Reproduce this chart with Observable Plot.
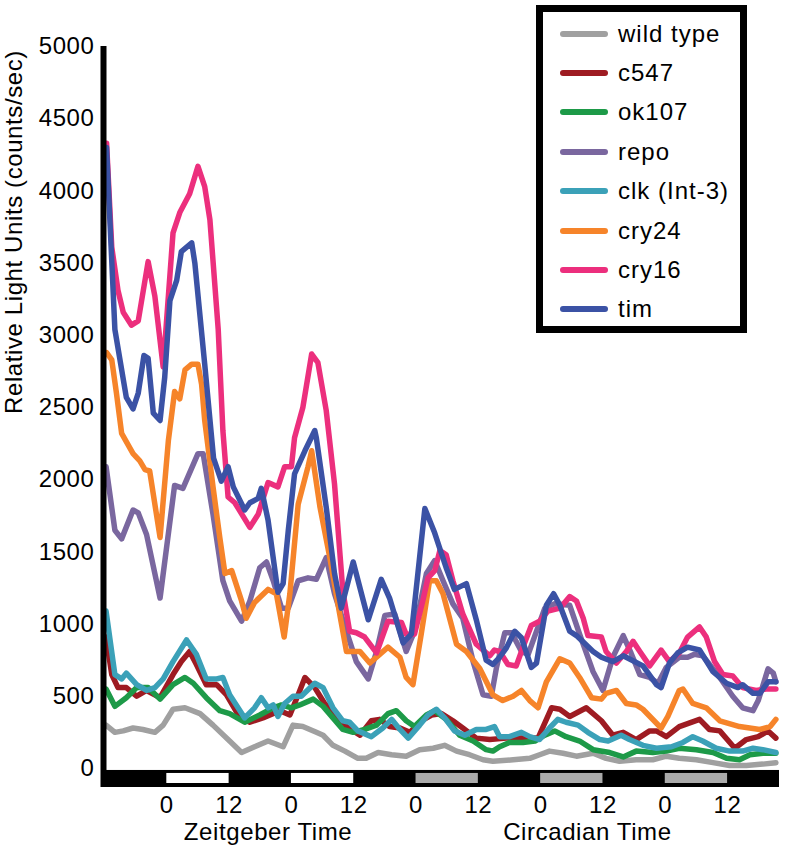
<!DOCTYPE html>
<html><head><meta charset="utf-8">
<script src="https://cdn.jsdelivr.net/npm/d3@7"></script>
<script src="https://cdn.jsdelivr.net/npm/@observablehq/plot@0.6"></script>
<style>
html,body{margin:0;padding:0;background:#fff;}
#wrap{position:relative;width:787px;height:850px;font-family:'Liberation Sans',Arial,sans-serif;}
#legend{position:absolute;left:536px;top:5px;width:211px;height:328px;box-sizing:border-box;border:7px solid #000;background:#fff;padding-top:2px;}
.row{display:flex;align-items:center;height:39.4px;}
.sw{width:48px;height:6px;border-radius:3px;margin-left:17px;margin-right:10px;flex:none;}
.lab{font-size:24px;letter-spacing:1px;color:#000;line-height:1;white-space:nowrap;}
</style></head>
<body><div id="wrap"><div id="chart"></div><div id="legend"></div></div>
<script>
// ---- data (hours relative to first ZT0, values in counts/sec) ----
const seriesNames = ["wild type","c547","ok107","repo","clk (Int-3)","cry24","cry16","tim"];
const seriesColors = ["#a0a0a0","#9e1b22","#1d9a48","#7a679f","#3ba1b8","#f6842a","#ec2f7d","#3b52a5"];

const wtH = [-11.7,-10,-8.4,-6.5,-4.6,-2.3,-0.7,1.2,3.5,6.4,8.9,12.1,14.4,16.9,19.5,22.4,24.3,26.2,28.8,30.1,32,34.3,36.8,38.4,40.7,43.3,46.1,48.7,51.3,53.5,55.8,58.3,60.9,62.8,66.7,69.9,71.8,73.7,76.3,78.9,82.1,84.6,87.2,90.4,93.6,96.2,98.7,102,105.2,108.4,111.6,114.8,117.3];
const wtV = [300,250,260,280,270,250,300,410,420,380,300,190,110,150,190,150,300,290,250,230,160,120,70,70,110,95,85,130,140,160,120,95,60,50,60,70,95,120,105,85,105,70,50,60,60,85,70,60,40,20,20,30,40];

const c547H = [-11.7,-10.6,-9.4,-7.8,-5.8,-3.9,-1.3,1.2,2.8,4.4,5.7,7.6,9.6,11.5,14.1,16,18.5,21.8,23.7,25.3,26.6,28.5,30.4,32.7,34.6,37.2,39.4,41,42.9,44.9,46.8,49,51,52.9,55.1,57,59.6,62.2,65.4,68.6,71.5,74.1,75.7,77.6,80.8,83.7,85.9,87.9,90.4,93,94.3,96.2,98.7,102.6,104.5,106.5,109.4,111.6,113.9,115.8,117.3];
const c547V = [910,650,560,560,500,540,490,650,740,810,720,580,580,510,350,320,350,400,370,510,630,560,450,370,290,230,330,340,290,280,250,330,370,380,330,280,210,200,210,210,210,420,410,360,420,330,230,250,200,260,260,220,290,340,270,260,140,200,220,260,210];

const ok107H = [-11.7,-10,-7.8,-5.8,-3.6,-1.3,1.2,3.5,5.1,7.6,10.2,12.1,15,17.9,20.5,22.1,24,25.6,28.2,30.1,32,33.9,35.9,38.1,40.4,42.6,44.2,46.1,47.7,50,51.6,53.8,56.4,59,61.5,62.8,64.1,66,68.6,70.9,72.8,74.7,76.9,79.5,82.1,85.3,87.9,90.4,93.6,96.2,98.7,102,105.2,107.8,110.3,112.3,114.8,117.3];
const ok107V = [550,430,490,560,560,480,580,630,590,490,400,380,320,370,420,440,420,440,480,430,350,270,250,270,300,380,400,330,290,370,400,340,230,190,130,120,150,180,180,190,230,260,220,190,130,110,80,120,110,120,140,130,110,70,60,95,105,105];

const repoH = [-11.7,-10,-8.7,-6.5,-5.5,-3.9,-1.3,1.5,3.1,6,7,8.9,10.8,12.1,14.4,16,17.9,19.2,20.5,22.1,23.4,25.3,27.2,28.8,30.7,32.3,34.6,36.5,38.8,40.4,42,43.9,46.1,47.7,50,51.6,53.2,55.1,57,59,60.9,62.5,63.5,65.1,66.4,68.3,69.6,72.8,74.7,77.6,79.5,82.1,84,85.9,87.9,89.4,91.1,93,94.6,96.2,98.7,100.3,101.6,103.2,106.5,109,110.9,112.9,113.9,115.8,116.8,117.3];
const repoV = [2090,1650,1590,1790,1770,1620,1180,1960,1940,2180,2180,1760,1300,1160,1020,1160,1390,1430,1300,1110,1110,1300,1320,1310,1460,1210,950,740,620,810,1060,1070,810,950,1350,1440,1300,1140,1040,740,510,500,700,940,940,810,790,1110,1140,1130,930,670,540,770,920,800,650,630,590,700,770,770,790,780,630,500,420,400,470,690,660,600];

const clkH = [-11.7,-10,-8.7,-7.8,-5.8,-3.9,-2.3,-0.7,1.2,3.8,5.7,7.6,9.6,10.8,12.1,15,16.9,18.2,19.5,20.5,21.4,22.7,24.3,25.9,28.5,30.1,32,33.9,35.2,36.8,39.4,41.6,43.3,44.9,46.5,48.7,50.3,51.9,53.5,55.4,57.4,59.6,61.5,63.1,64.1,66,68.3,69.9,71.8,73.7,75.3,76.9,79.2,81.1,83.4,85,87.5,89.1,91.7,94.3,97.2,99.4,101.3,103.2,105.8,108.4,110.9,112.9,114.8,117.3];
const clkV = [1090,650,620,660,580,540,560,620,740,890,790,620,620,630,510,350,420,490,420,440,360,450,500,500,590,560,420,330,320,260,220,280,340,270,210,300,370,410,350,260,230,270,270,290,220,220,250,220,200,280,340,320,300,250,200,190,230,200,160,140,150,180,220,190,140,120,120,140,130,110];

const cry24H = [-11.6,-10.6,-9.7,-8.7,-6.5,-5.2,-4.2,-3.3,-1.3,0.3,1.5,2.5,3.5,4.8,6,6.7,7.3,8.9,10.2,11.2,12.5,14.4,15.3,16.9,19.5,21.1,22.6,23.7,25.3,27.2,27.9,29.5,31.4,33.3,34.6,37.2,39.1,41,42.6,44.9,46.1,47.4,49,50.6,51.9,53.2,55.8,57.7,60.3,62.8,64.7,66.7,68.3,69.9,71.5,73.1,75.7,77.6,79.5,81.8,83.7,84.6,86.6,88.5,90.4,91.7,95.2,96.5,98.7,99.4,101.3,103.9,106.5,110.3,114.2,116.2,117.3];
const cry24V = [2880,2830,2600,2320,2180,2130,2070,2060,1600,2270,2610,2560,2760,2800,2800,2660,2410,1950,1600,1350,1370,1160,1040,1150,1240,1210,910,1210,1830,2090,2200,1810,1460,1070,810,810,730,790,840,770,630,580,930,1300,1300,1210,860,810,690,510,470,500,540,470,420,600,760,730,630,490,480,520,540,450,440,410,280,360,540,550,450,420,330,290,270,290,340];

const cry16H = [-11.6,-10.6,-9.4,-8.4,-6.8,-5.5,-3.6,-2.3,-0.7,1.2,2.5,4.4,6,7.3,8.3,9.9,10.8,11.8,13.1,16,17.6,19.5,21.4,22.7,24,24.6,26.2,27.9,29.1,30.7,32.3,33.9,35.2,36.5,38.1,40.4,42.6,45.2,46.1,47.7,49.3,50.3,51.6,52.6,53.8,55.1,57,59.6,62.2,63.1,64.1,65.7,67.3,68.6,70.2,71.8,73.4,75.7,77.6,78.9,80.2,81.1,83.7,84.6,86.6,88.5,89.8,91.1,93,95.2,96.8,98.7,100.3,102.6,103.9,105.5,107.1,109,110.9,113.5,115.4,117.3];
const cry16V = [4330,3610,3310,3160,3070,3100,3510,3270,2780,3710,3850,3980,4170,4030,3800,3040,2340,1880,1840,1670,1760,1980,1950,2090,2090,2290,2500,2870,2810,2480,1970,1230,950,940,910,800,1020,1010,930,930,1160,1320,1370,1510,1480,1300,1070,860,780,820,810,720,710,840,990,1020,1090,1110,1190,1160,1040,920,910,810,730,810,880,810,710,820,740,800,910,980,910,740,650,640,560,540,550,550];

const timH = [-11.6,-10,-7.8,-6.5,-5.5,-4.4,-3.6,-2.6,-1.3,-0.4,0.6,1.9,2.8,4.8,5.4,7.3,9,10.5,11.8,12.8,15,16,17.6,18.2,19.5,21.4,22.4,23.4,24.6,26.6,28.5,28.8,30.7,32.3,33.6,35.9,38.8,41.3,42.9,45.5,47.1,49.7,51.6,53.8,55.4,57.7,59.6,61.5,62.8,64.1,65.4,67,68.3,70.2,71.2,73.1,74.5,75.7,77.6,78.9,82.1,83.7,85.9,87.9,91.7,94.3,95.2,96.8,98.4,100.3,102.6,105.2,107.8,110,110.9,112.9,114.2,115.8,117.3];
const timV = [4300,3040,2570,2490,2600,2860,2840,2460,2410,2710,3240,3380,3580,3640,3500,2800,2150,1990,2090,1950,1790,1840,1870,1940,1720,1220,1280,1650,2040,2200,2340,2290,1810,1350,1110,1430,1030,1310,1180,870,930,1800,1630,1390,1240,1280,1030,750,720,770,835,950,905,700,730,1130,1210,1130,950,920,810,770,740,780,710,580,560,730,800,840,820,670,590,560,580,520,520,600,600];

const seriesHours = [wtH, c547H, ok107H, repoH, clkH, cry24H, cry16H, timH];
const seriesValues = [wtV, c547V, ok107V, repoV, clkV, cry24V, cry16V, timV];

// light schedule: light phase start hours (12 h each); LD days then DD (subjective day, gray)
const phaseStarts = [0, 24, 48, 72, 96];
const phaseTypes = ["light", "light", "subjective", "subjective", "subjective"];
const phaseLength = 12;
const recordSpan = [-12, 118];

const xTicks = [0, 12, 24, 36, 48, 60, 72, 84, 96, 108];
const yTicks = [0, 500, 1000, 1500, 2000, 2500, 3000, 3500, 4000, 4500, 5000];
const xTitles = [{label: "Zeitgeber Time", h: 19.5}, {label: "Circadian Time", h: 81}];
const yTitle = "Relative Light Units (counts/sec)";

// band below zero used for the light/dark bar (in y units)
const barBand = [-132, -14];

// ---- build tables ----
const rows = [];
seriesNames.forEach((name, i) => {
  seriesHours[i].forEach((h, j) => rows.push({series: name, h, v: seriesValues[i][j]}));
});
const phases = phaseStarts.map((s, i) => ({start: s, end: s + phaseLength, type: phaseTypes[i]}));

const FS = 24;
const chart = Plot.plot({
  width: 787,
  height: 850,
  marginLeft: 104,
  marginRight: 8,
  marginTop: 46,
  marginBottom: 63,
  x: {domain: recordSpan},
  y: {domain: [barBand[0], 5000]},
  color: {domain: seriesNames, range: seriesColors},
  style: {fontFamily: "'Liberation Sans', Arial, sans-serif", fontSize: FS + "px", letterSpacing: "0.6px", color: "#000", background: "#fff", overflow: "visible"},
  marks: [
    Plot.rect([{a: recordSpan[0], b: recordSpan[1]}], {x1: "a", x2: "b", y1: barBand[0], y2: barBand[1], fill: "#000"}),
    Plot.rect(phases.filter(d => d.type === "light"), {x1: "start", x2: "end", y1: barBand[0], y2: barBand[1], insetTop: 3, insetBottom: 4, fill: "#fff"}),
    Plot.rect(phases.filter(d => d.type !== "light"), {x1: "start", x2: "end", y1: barBand[0], y2: barBand[1], insetTop: 3, insetBottom: 4, fill: "#aaaaaa"}),
    Plot.line(rows, {x: "h", y: "v", z: "series", stroke: "series", strokeWidth: 5.5, strokeLinejoin: "round"}),
    Plot.ruleX([recordSpan[0]], {y1: barBand[0], y2: 5000, stroke: "#000", strokeWidth: 6, dx: -1}),
    Plot.axisY({ticks: yTicks, tickSize: 0, tickPadding: 10, tickFormat: d => String(d), label: null, fontSize: FS}),
    Plot.axisX({ticks: xTicks, tickSize: 0, tickPadding: 8, tickFormat: d => String(d % 24), label: null, fontSize: FS}),
    Plot.text(xTitles, {x: "h", text: "label", frameAnchor: "bottom", dy: 52, fontSize: FS}),
    Plot.text([yTitle], {frameAnchor: "left", rotate: -90, dx: -90, dy: -3, fontSize: FS})
  ]
});
document.getElementById("chart").appendChild(chart);

// ---- legend ----
const legend = document.getElementById("legend");
seriesNames.forEach((name, i) => {
  const row = document.createElement("div");
  row.className = "row";
  const sw = document.createElement("div");
  sw.className = "sw";
  sw.style.background = seriesColors[i];
  const lab = document.createElement("span");
  lab.className = "lab";
  lab.textContent = name;
  row.appendChild(sw);
  row.appendChild(lab);
  legend.appendChild(row);
});
</script>
</body></html>
